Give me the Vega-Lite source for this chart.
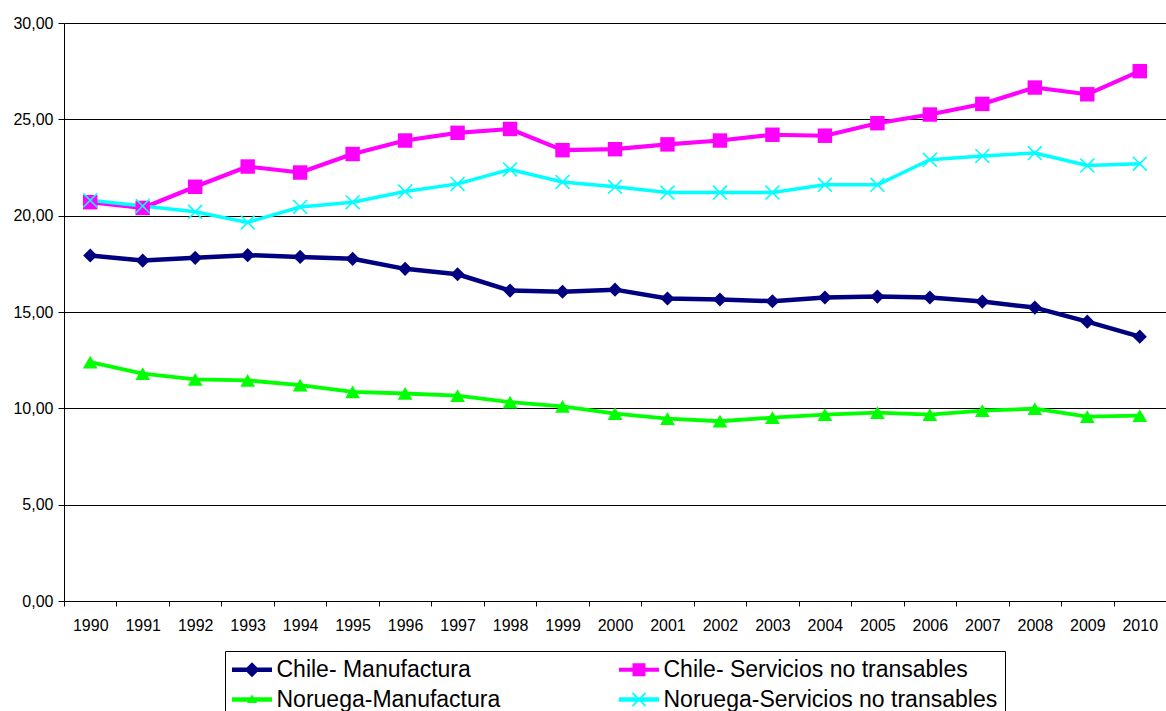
{
  "$schema": "https://vega.github.io/schema/vega-lite/v6.json",
  "width": 1102,
  "height": 578,
  "autosize": {"type": "none"},
  "padding": {"left": 64, "top": 23, "right": 0, "bottom": 110},
  "background": "#ffffff",
  "config": {"view": {"stroke": null}, "font": "Liberation Sans"},
  "data": {
    "values": [
      {"year": 1990, "serie": "Chile- Manufactura", "value": 17.93},
      {"year": 1991, "serie": "Chile- Manufactura", "value": 17.67},
      {"year": 1992, "serie": "Chile- Manufactura", "value": 17.81},
      {"year": 1993, "serie": "Chile- Manufactura", "value": 17.95},
      {"year": 1994, "serie": "Chile- Manufactura", "value": 17.86},
      {"year": 1995, "serie": "Chile- Manufactura", "value": 17.76},
      {"year": 1996, "serie": "Chile- Manufactura", "value": 17.24},
      {"year": 1997, "serie": "Chile- Manufactura", "value": 16.96},
      {"year": 1998, "serie": "Chile- Manufactura", "value": 16.11},
      {"year": 1999, "serie": "Chile- Manufactura", "value": 16.05},
      {"year": 2000, "serie": "Chile- Manufactura", "value": 16.16},
      {"year": 2001, "serie": "Chile- Manufactura", "value": 15.7},
      {"year": 2002, "serie": "Chile- Manufactura", "value": 15.65},
      {"year": 2003, "serie": "Chile- Manufactura", "value": 15.56},
      {"year": 2004, "serie": "Chile- Manufactura", "value": 15.75},
      {"year": 2005, "serie": "Chile- Manufactura", "value": 15.8},
      {"year": 2006, "serie": "Chile- Manufactura", "value": 15.75},
      {"year": 2007, "serie": "Chile- Manufactura", "value": 15.54},
      {"year": 2008, "serie": "Chile- Manufactura", "value": 15.23},
      {"year": 2009, "serie": "Chile- Manufactura", "value": 14.5},
      {"year": 2010, "serie": "Chile- Manufactura", "value": 13.72},
      {"year": 1990, "serie": "Chile- Servicios no transables", "value": 20.7},
      {"year": 1991, "serie": "Chile- Servicios no transables", "value": 20.4},
      {"year": 1992, "serie": "Chile- Servicios no transables", "value": 21.5},
      {"year": 1993, "serie": "Chile- Servicios no transables", "value": 22.55},
      {"year": 1994, "serie": "Chile- Servicios no transables", "value": 22.24},
      {"year": 1995, "serie": "Chile- Servicios no transables", "value": 23.2},
      {"year": 1996, "serie": "Chile- Servicios no transables", "value": 23.9},
      {"year": 1997, "serie": "Chile- Servicios no transables", "value": 24.3},
      {"year": 1998, "serie": "Chile- Servicios no transables", "value": 24.5},
      {"year": 1999, "serie": "Chile- Servicios no transables", "value": 23.4},
      {"year": 2000, "serie": "Chile- Servicios no transables", "value": 23.45},
      {"year": 2001, "serie": "Chile- Servicios no transables", "value": 23.7},
      {"year": 2002, "serie": "Chile- Servicios no transables", "value": 23.9},
      {"year": 2003, "serie": "Chile- Servicios no transables", "value": 24.2},
      {"year": 2004, "serie": "Chile- Servicios no transables", "value": 24.15},
      {"year": 2005, "serie": "Chile- Servicios no transables", "value": 24.8},
      {"year": 2006, "serie": "Chile- Servicios no transables", "value": 25.25},
      {"year": 2007, "serie": "Chile- Servicios no transables", "value": 25.8},
      {"year": 2008, "serie": "Chile- Servicios no transables", "value": 26.65},
      {"year": 2009, "serie": "Chile- Servicios no transables", "value": 26.3},
      {"year": 2010, "serie": "Chile- Servicios no transables", "value": 27.5},
      {"year": 1990, "serie": "Noruega-Manufactura", "value": 12.4},
      {"year": 1991, "serie": "Noruega-Manufactura", "value": 11.8},
      {"year": 1992, "serie": "Noruega-Manufactura", "value": 11.5},
      {"year": 1993, "serie": "Noruega-Manufactura", "value": 11.45},
      {"year": 1994, "serie": "Noruega-Manufactura", "value": 11.2},
      {"year": 1995, "serie": "Noruega-Manufactura", "value": 10.85},
      {"year": 1996, "serie": "Noruega-Manufactura", "value": 10.77},
      {"year": 1997, "serie": "Noruega-Manufactura", "value": 10.66},
      {"year": 1998, "serie": "Noruega-Manufactura", "value": 10.32},
      {"year": 1999, "serie": "Noruega-Manufactura", "value": 10.1},
      {"year": 2000, "serie": "Noruega-Manufactura", "value": 9.73},
      {"year": 2001, "serie": "Noruega-Manufactura", "value": 9.47},
      {"year": 2002, "serie": "Noruega-Manufactura", "value": 9.33},
      {"year": 2003, "serie": "Noruega-Manufactura", "value": 9.52},
      {"year": 2004, "serie": "Noruega-Manufactura", "value": 9.67},
      {"year": 2005, "serie": "Noruega-Manufactura", "value": 9.78},
      {"year": 2006, "serie": "Noruega-Manufactura", "value": 9.67},
      {"year": 2007, "serie": "Noruega-Manufactura", "value": 9.88},
      {"year": 2008, "serie": "Noruega-Manufactura", "value": 9.98},
      {"year": 2009, "serie": "Noruega-Manufactura", "value": 9.57},
      {"year": 2010, "serie": "Noruega-Manufactura", "value": 9.62},
      {"year": 1990, "serie": "Noruega-Servicios no transables", "value": 20.8},
      {"year": 1991, "serie": "Noruega-Servicios no transables", "value": 20.5},
      {"year": 1992, "serie": "Noruega-Servicios no transables", "value": 20.2},
      {"year": 1993, "serie": "Noruega-Servicios no transables", "value": 19.65},
      {"year": 1994, "serie": "Noruega-Servicios no transables", "value": 20.45},
      {"year": 1995, "serie": "Noruega-Servicios no transables", "value": 20.7},
      {"year": 1996, "serie": "Noruega-Servicios no transables", "value": 21.25},
      {"year": 1997, "serie": "Noruega-Servicios no transables", "value": 21.65},
      {"year": 1998, "serie": "Noruega-Servicios no transables", "value": 22.4},
      {"year": 1999, "serie": "Noruega-Servicios no transables", "value": 21.75},
      {"year": 2000, "serie": "Noruega-Servicios no transables", "value": 21.5},
      {"year": 2001, "serie": "Noruega-Servicios no transables", "value": 21.2},
      {"year": 2002, "serie": "Noruega-Servicios no transables", "value": 21.2},
      {"year": 2003, "serie": "Noruega-Servicios no transables", "value": 21.2},
      {"year": 2004, "serie": "Noruega-Servicios no transables", "value": 21.6},
      {"year": 2005, "serie": "Noruega-Servicios no transables", "value": 21.6},
      {"year": 2006, "serie": "Noruega-Servicios no transables", "value": 22.9},
      {"year": 2007, "serie": "Noruega-Servicios no transables", "value": 23.1},
      {"year": 2008, "serie": "Noruega-Servicios no transables", "value": 23.25},
      {"year": 2009, "serie": "Noruega-Servicios no transables", "value": 22.6},
      {"year": 2010, "serie": "Noruega-Servicios no transables", "value": 22.7}
    ]
  },
  "encoding": {
    "x": {
      "field": "year",
      "type": "ordinal",
      "bandPosition": 0.5,
      "scale": {"type": "band", "paddingInner": 0, "paddingOuter": 0},
      "axis": {
        "title": null,
        "tickBand": "extent",
        "tickSize": 5,
        "labelPadding": 11,
        "labelAngle": 0,
        "labelFont": "Liberation Sans",
        "labelFontSize": 16,
        "labelColor": "#000000",
        "domainColor": "#000000",
        "tickColor": "#000000",
        "grid": false
      }
    },
    "y": {
      "field": "value",
      "type": "quantitative",
      "scale": {"domain": [0, 30], "nice": false},
      "axis": {
        "title": null,
        "values": [0, 5, 10, 15, 20, 25, 30],
        "labelExpr": "replace(format(datum.value, '.2f'), '.', ',')",
        "grid": true,
        "gridColor": "#000000",
        "gridWidth": 1,
        "domainColor": "#000000",
        "tickColor": "#000000",
        "tickSize": 6,
        "labelPadding": 5,
        "labelFont": "Liberation Sans",
        "labelFontSize": 16,
        "labelColor": "#000000"
      }
    }
  },
  "layer": [
    {
      "mark": {"type": "line", "strokeJoin": "round", "strokeCap": "round"},
      "encoding": {
        "color": {
          "field": "serie",
          "type": "nominal",
          "scale": {
            "domain": ["Chile- Manufactura", "Chile- Servicios no transables", "Noruega-Manufactura", "Noruega-Servicios no transables"],
            "range": ["#000080", "#ff00ff", "#00ff00", "#00ffff"]
          },
          "legend": null
        },
        "strokeWidth": {
          "field": "serie",
          "type": "ordinal",
          "scale": {
            "domain": ["Chile- Manufactura", "Chile- Servicios no transables", "Noruega-Manufactura", "Noruega-Servicios no transables"],
            "range": [4.5, 3.5, 4.5, 5.5]
          },
          "legend": null
        }
      }
    },
    {
      "mark": {"type": "point", "filled": true, "opacity": 1},
      "encoding": {
        "color": {
          "field": "serie",
          "type": "nominal",
          "scale": {
            "domain": ["Chile- Manufactura", "Chile- Servicios no transables", "Noruega-Manufactura", "Noruega-Servicios no transables"],
            "range": ["#000080", "#ff00ff", "#00ff00", "#00ffff"]
          },
          "legend": null
        },
        "shape": {
          "field": "serie",
          "type": "nominal",
          "scale": {
            "domain": ["Chile- Manufactura", "Chile- Servicios no transables", "Noruega-Manufactura", "Noruega-Servicios no transables"],
            "range": ["diamond", "square", "triangle-up", "M-0.85,-1L1,0.85L0.85,1L-1,-0.85Z M-1,0.85L0.85,-1L1,-0.85L-0.85,1Z"]
          },
          "legend": null
        },
        "size": {
          "field": "serie",
          "type": "ordinal",
          "scale": {
            "domain": ["Chile- Manufactura", "Chile- Servicios no transables", "Noruega-Manufactura", "Noruega-Servicios no transables"],
            "range": [200, 225, 100, 256]
          },
          "legend": null
        }
      }
    },
    {
      "transform": [{"filter": "false"}],
      "mark": {"type": "point", "filled": true, "opacity": 1},
      "encoding": {
        "color": {
          "field": "serie",
          "type": "nominal",
          "scale": {
            "domain": ["Chile- Manufactura", "Chile- Servicios no transables", "Noruega-Manufactura", "Noruega-Servicios no transables"],
            "range": ["#000080", "#ff00ff", "#00ff00", "#00ffff"]
          },
          "legend": {
            "title": null,
            "orient": "none",
            "direction": "horizontal",
            "legendX": 161,
            "legendY": 628,
            "columns": 2,
            "columnPadding": 118,
            "rowPadding": 6,
            "padding": 7,
            "strokeColor": "#000000",
            "fillColor": "#ffffff",
            "symbolSize": 400,
            "symbolOffset": 8.5,
            "symbolStrokeWidth": 0,
            "labelOffset": 13,
            "labelFont": "Liberation Sans",
            "labelFontSize": 23,
            "labelColor": "#000000",
            "labelLimit": 500
          }
        },
        "shape": {
          "field": "serie",
          "type": "nominal",
          "scale": {
            "domain": ["Chile- Manufactura", "Chile- Servicios no transables", "Noruega-Manufactura", "Noruega-Servicios no transables"],
            "range": [
              "M-2,-0.22H2V0.22H-2Z M0,-0.75L0.75,0L0,0.75L-0.75,0Z",
              "M-2,-0.2H2V0.2H-2Z M-0.65,-0.65H0.65V0.65H-0.65Z",
              "M-2,-0.22H2V0.22H-2Z M0,-0.5L0.5,0.35L-0.5,0.35Z",
              "M-2,-0.22H2V0.22H-2Z M-0.6,-0.72L0.72,0.6L0.6,0.72L-0.72,-0.6Z M-0.72,0.6L0.6,-0.72L0.72,-0.6L-0.6,0.72Z"
            ]
          },
          "legend": {
            "title": null,
            "orient": "none",
            "direction": "horizontal",
            "legendX": 161,
            "legendY": 628,
            "columns": 2,
            "columnPadding": 118,
            "rowPadding": 6,
            "padding": 7,
            "strokeColor": "#000000",
            "fillColor": "#ffffff",
            "symbolSize": 400,
            "symbolOffset": 8.5,
            "symbolStrokeWidth": 0,
            "labelOffset": 13,
            "labelFont": "Liberation Sans",
            "labelFontSize": 23,
            "labelColor": "#000000",
            "labelLimit": 500
          }
        }
      }
    }
  ],
  "resolve": {
    "scale": {"color": "independent", "shape": "independent", "size": "independent", "strokeWidth": "independent"}
  }
}
